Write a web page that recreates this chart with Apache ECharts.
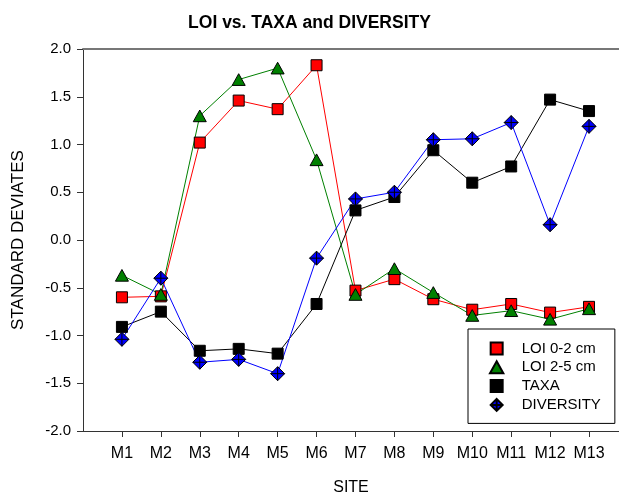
<!DOCTYPE html>
<html>
<head>
<meta charset="utf-8">
<script src="https://cdn.jsdelivr.net/npm/echarts@6/dist/echarts.min.js"></script>
<style>html,body{margin:0;padding:0;background:#fff}#c{width:619px;height:498px}</style>
</head>
<body>
<div id="c"></div>
<script>
const sites = ['M1','M2','M3','M4','M5','M6','M7','M8','M9','M10','M11','M12','M13'];
const loi02 = [-0.60,-0.59,1.02,1.46,1.37,1.83,-0.53,-0.41,-0.62,-0.73,-0.67,-0.76,-0.70];
const loi25 = [-0.37,-0.57,1.30,1.68,1.80,0.84,-0.57,-0.30,-0.55,-0.79,-0.74,-0.83,-0.72];
const taxa = [-0.91,-0.75,-1.16,-1.14,-1.19,-0.67,0.31,0.45,0.94,0.60,0.77,1.47,1.35];
const diversity = [-1.04,-0.40,-1.28,-1.25,-1.40,-0.19,0.43,0.50,1.05,1.06,1.23,0.16,1.19];
const yTicks = [-2.0,-1.5,-1.0,-0.5,0.0,0.5,1.0,1.5,2.0];

const pos = sites.map((s,i)=>i+1);
const toData = arr => arr.map((v,i)=>[pos[i], v]);

const SQ = 'path://M0,0L10,0L10,10L0,10Z';
const TRI = 'path://M5,0L10,9L0,9Z';
const DIA = 'path://M0,-10L10,0L0,10L-10,0Z M-10,0L10,0 M0,-10L0,10';

const font = 'Liberation Sans, Arial, sans-serif';
const chart = echarts.init(document.getElementById('c'), null, {renderer:'canvas'});
const mk = (name, data, color, lineColor, symbol, size) => ({
  name, type:'line', data: toData(data), symbol, symbolSize: size, symbolKeepAspect: true,
  lineStyle:{color: lineColor, width:1}, itemStyle:{color, borderColor:'#000', borderWidth:1},
  emphasis:{disabled:true}, animation:false
});
chart.setOption({
  backgroundColor:'#fff',
  animation:false,
  title:{text:'LOI vs. TAXA and DIVERSITY', left:'center', top:9,
    textStyle:{fontFamily:font, fontSize:17.5, fontWeight:'bold', color:'#000'}},
  grid:{left:83, right:0, top:49, bottom:67, outerBoundsMode:'none'},
  legend:{
    orient:'vertical', left:468, top:329,
    padding:[12,14,11,21], itemGap:3.8, itemWidth:40, itemHeight:12,
    borderColor:'#000', borderWidth:1, backgroundColor:'#fff',
    textStyle:{fontFamily:font, fontSize:15, color:'#000'},
    data:[{name:'LOI 0-2 cm', icon:SQ},{name:'LOI 2-5 cm', icon:TRI},{name:'TAXA', icon:SQ},{name:'DIVERSITY', icon:DIA}]
  },
  xAxis:[{
    type:'value', min:0, max:13.77, name:'SITE', nameLocation:'middle', nameGap:49,
    nameTextStyle:{fontFamily:font, fontSize:16, color:'#000'},
    axisLine:{show:true, onZero:false, lineStyle:{color:'#333', width:1}},
    axisTick:{show:true, length:6, customValues:pos, lineStyle:{color:'#333'}},
    axisLabel:{customValues:pos, margin:15, fontFamily:font, fontSize:16, color:'#000',
      formatter:v=>sites[Math.round(v)-1]||''},
    splitLine:{show:false}
  },{
    type:'value', position:'top', min:0, max:13.77,
    axisLine:{show:true, onZero:false, lineStyle:{color:'#777', width:2}},
    axisTick:{show:false}, axisLabel:{show:false}, splitLine:{show:false}
  }],
  yAxis:{
    type:'value', min:-2, max:2, interval:0.5, name:'STANDARD DEVIATES', nameLocation:'middle', nameGap:56,
    nameTextStyle:{fontFamily:font, fontSize:17, color:'#000'},
    axisLine:{show:true, onZero:false, lineStyle:{color:'#333', width:1}},
    axisTick:{show:true, length:6, lineStyle:{color:'#333'}},
    axisLabel:{margin:12, fontFamily:font, fontSize:15, color:'#000', formatter:v=>v.toFixed(1)},
    splitLine:{show:false}
  },
  series:[
    mk('LOI 0-2 cm', loi02, '#ff0000', '#ff0000', SQ, 11),
    mk('LOI 2-5 cm', loi25, '#008000', '#008000', TRI, 13),
    mk('TAXA', taxa, '#000000', '#000000', SQ, 11),
    mk('DIVERSITY', diversity, '#0000ff', '#0000ff', DIA, 14)
  ]
});
</script>
</body>
</html>
